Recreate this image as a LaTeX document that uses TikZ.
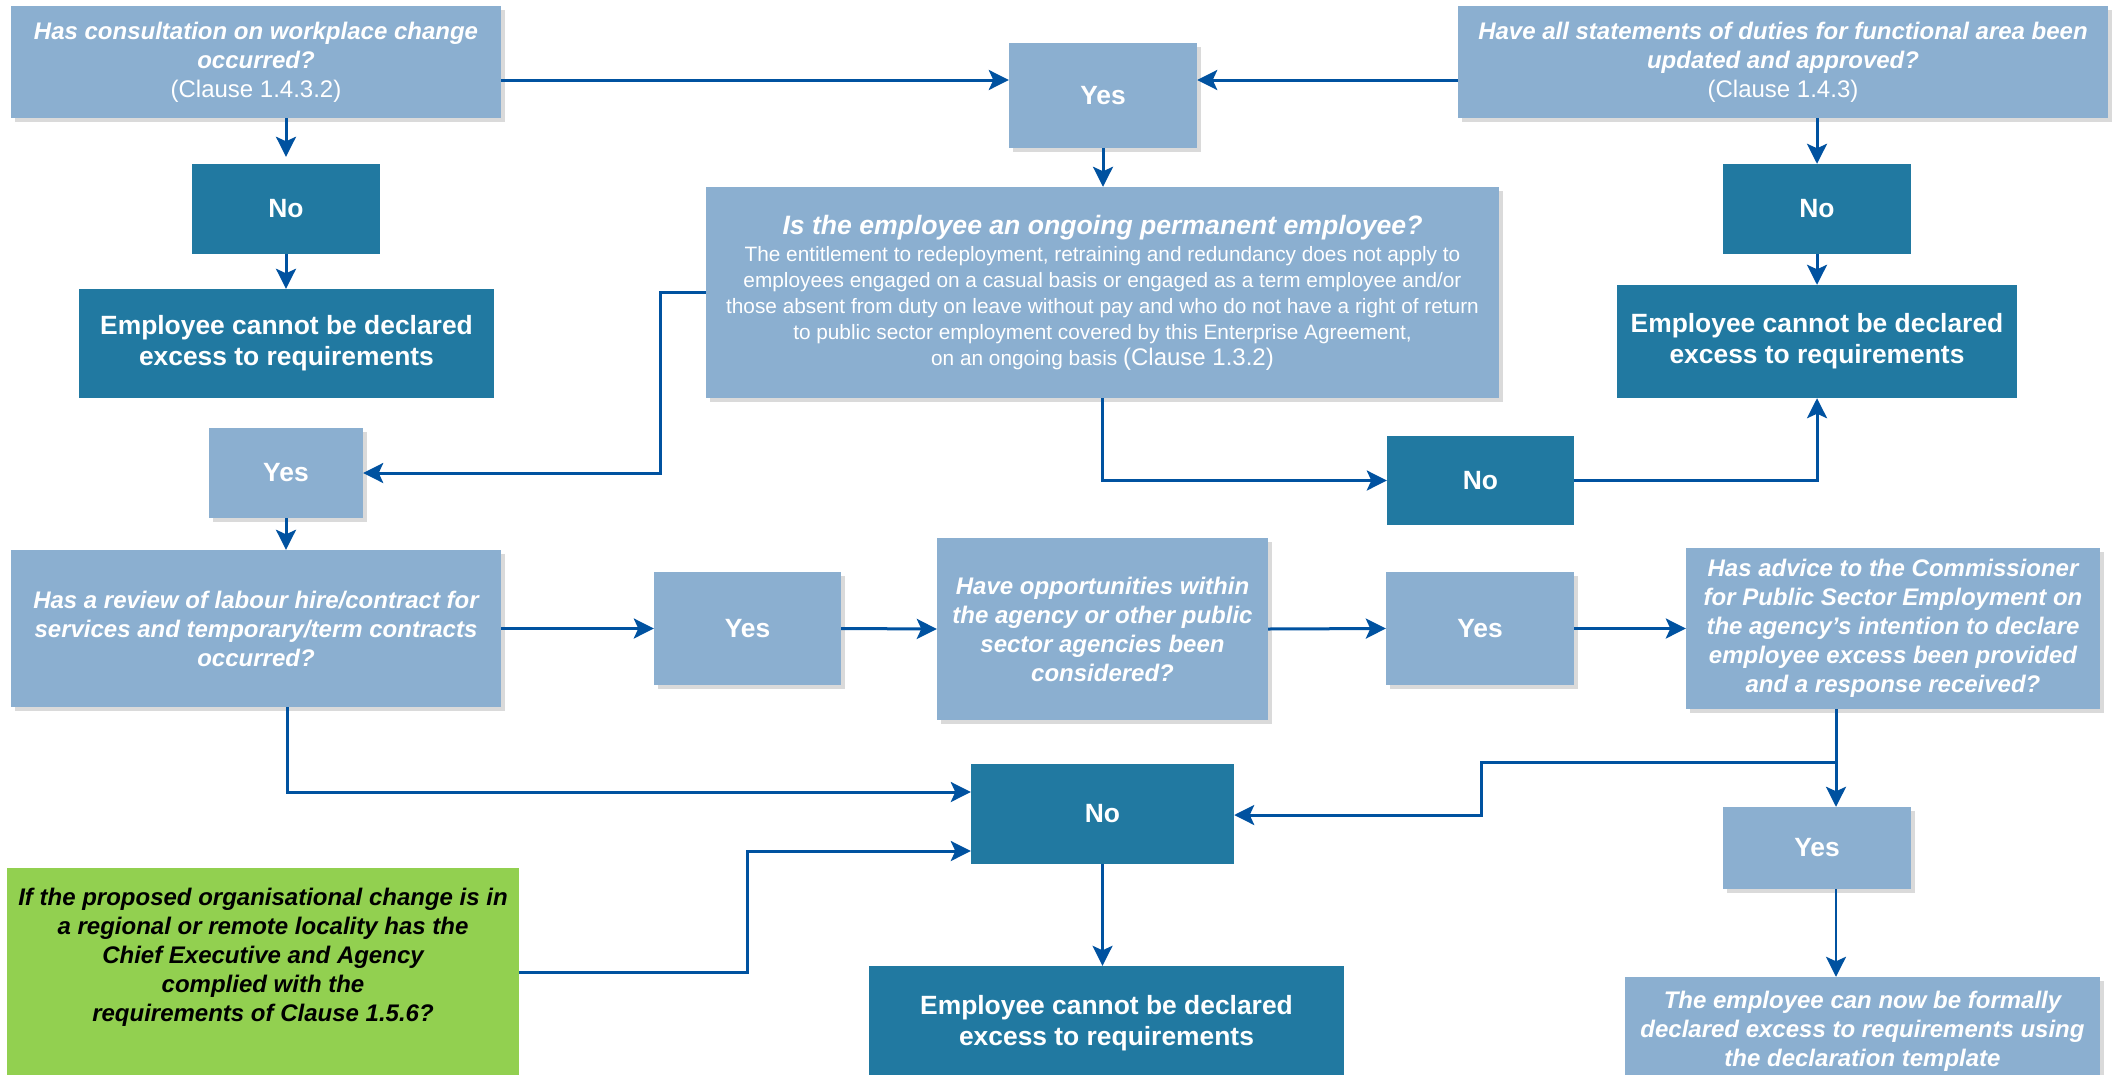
\documentclass[tikz,border=0pt]{standalone}
\usepackage{fontspec}
\setmainfont{Liberation Sans}
\usetikzlibrary{arrows.meta,shadows,calc}
\definecolor{lblue}{RGB}{139,175,208}
\definecolor{dteal}{RGB}{33,121,161}
\definecolor{lgreen}{RGB}{146,208,80}
\definecolor{arrblue}{RGB}{0,82,160}
\definecolor{shd}{RGB}{218,218,218}
\newcommand{\qfont}{\fontsize{24}{29}\selectfont\bfseries\itshape}
\newcommand{\bigfont}{\fontsize{26.4}{31}\selectfont\bfseries}
\newcommand{\clausefont}{\fontsize{24}{29}\selectfont\mdseries\upshape}
\begin{document}
\begin{tikzpicture}[x=1pt,y=-1pt,
  box/.style={rectangle, inner sep=0pt, align=center, text=white},
  qbox/.style={box, fill=lblue, drop shadow={shadow xshift=4pt, shadow yshift=-4pt, fill=shd, opacity=1}},
  dbox/.style={box, fill=dteal, font=\bigfont},
  gbox/.style={box, fill=lgreen, text=black, font=\qfont},
  conn/.style={draw=arrblue, line width=3pt, -{Stealth[length=20pt,width=20pt,inset=4.5pt]}},
  thinconn/.style={conn, line width=2.6pt}]
\useasboundingbox[fill=white] (0,0) rectangle (2115,1074);

% top row
\node[qbox, font=\qfont, minimum width=490, minimum height=112] (cons) at (256,62)
  {Has consultation on workplace change\\occurred?\\{\clausefont(Clause 1.4.3.2)}};
\node[qbox, font=\bigfont, minimum width=188, minimum height=105] (yes1) at (1103,95.5) {Yes};
\node[qbox, font=\qfont, minimum width=650, minimum height=112] (stat) at (1783,62)
  {Have all statements of duties for functional area been\\updated and approved?\\{\clausefont(Clause 1.4.3)}};

\node[dbox, minimum width=188, minimum height=90] (no1) at (286,209) {No};
\node[dbox, minimum width=415, minimum height=109] (ex1) at (286.5,343.5) {Employee cannot be declared\\excess to requirements};
\node[dbox, minimum width=188, minimum height=90] (no2) at (1817,209) {No};
\node[dbox, minimum width=400, minimum height=113] (ex2) at (1817,341.5) {Employee cannot be declared\\excess to requirements};

\node[qbox, font=\fontsize{20.8}{26}\selectfont, minimum width=793, minimum height=211] (emp) at (1102.5,292.5)
  {{\fontsize{26.6}{26}\selectfont\bfseries\itshape Is the employee an ongoing permanent employee?}\\[1pt]
   The entitlement to redeployment, retraining and redundancy does not apply to\\
   employees engaged on a casual basis or engaged as a term employee and/or\\
   those absent from duty on leave without pay and who do not have a right of return\\
   to public sector employment covered by this Enterprise Agreement,\\
   on an ongoing basis {\fontsize{24}{26}\selectfont(Clause 1.3.2)}};

\node[qbox, font=\bigfont, minimum width=154, minimum height=90] (yes2) at (286,473) {Yes};
\node[dbox, minimum width=187, minimum height=89] (no3) at (1480.5,480.5) {No};

% middle row
\node[qbox, font=\qfont, minimum width=490, minimum height=157] (rev) at (256,628.5)
  {Has a review of labour hire/contract for\\services and temporary/term contracts\\occurred?};
\node[qbox, font=\bigfont, minimum width=187, minimum height=113] (yes3) at (747.5,628.5) {Yes};
\node[qbox, font=\qfont, minimum width=331, minimum height=182] (opp) at (1102.5,629)
  {Have opportunities within\\the agency or other public\\sector agencies been\\considered?};
\node[qbox, font=\bigfont, minimum width=188, minimum height=113] (yes4) at (1480,628.5) {Yes};
\node[qbox, font=\qfont, minimum width=414, minimum height=161] (adv) at (1893,628.5)
  {Has advice to the Commissioner\\for Public Sector Employment on\\the agency’s intention to declare\\employee excess been provided\\and a response received?};

% bottom row
\node[dbox, minimum width=263, minimum height=100] (no4) at (1102.5,814) {No};
\node[qbox, font=\bigfont, minimum width=188, minimum height=82] (yes5) at (1817,848) {Yes};
\node[gbox, minimum width=512, minimum height=212] (reg) at (263,974)
  {If the proposed organisational change is in\\a regional or remote locality has the\\Chief Executive and Agency\\complied with the\\requirements of Clause 1.5.6?\rule[-39pt]{0pt}{1pt}};
\node[dbox, minimum width=475, minimum height=114] (ex3) at (1106.5,1023) {Employee cannot be declared\\excess to requirements};
\node[qbox, font=\qfont, minimum width=475, minimum height=108] (fin) at (1862.5,1031)
  {The employee can now be formally\\declared excess to requirements using\\the declaration template};

% helper coordinates
\coordinate (yA) at (0,80);
\coordinate (k1) at (660,0);
\coordinate (k2) at (287,792);
\coordinate (k3) at (1836,762);
\coordinate (k4) at (1481,815);
\coordinate (k5) at (747,851);
\coordinate (k6) at (0,972);

% connectors
\draw[conn] (cons.east |- yA) -- (yes1.west |- yA);
\draw[conn] (stat.west |- yA) -- (yes1.east |- yA);
\draw[conn, shorten >=7pt] (no1.north |- cons.south) -- (no1.north);
\draw[conn] (no1.south) -- (no1.south |- ex1.north);
\draw[conn] (no2.north |- stat.south) -- (no2.north);
\draw[conn] (no2.south) -- (no2.south |- ex2.north);
\draw[conn] (yes1.south) -- (yes1.south |- emp.north);
\draw[conn] (emp.west) -- (emp.west -| k1) |- (yes2.east);
\draw[conn] (emp.south) |- (no3.west);
\draw[conn] (no3.east) -| (ex2.south);
\draw[conn] (yes2.south) -- (yes2.south |- rev.north);
\draw[conn] (rev.east) -- (yes3.west);
\draw[conn] (yes3.east) -- (opp.west);
\draw[conn] (opp.east) -- (yes4.west);
\draw[conn] (yes4.east) -- (adv.west);
\draw[conn] (rev.south -| k2) -- (k2) -- (no4.west |- k2);
\draw[conn] (adv.south -| k3) -- (k3) -- (yes5.north -| k3);
\draw[conn] (k3) -| (k4) -- (no4.east |- k4);
\draw[conn] (reg.east |- k6) -| (k5) -- (no4.west |- k5);
\draw[thinconn] (no4.south) -- (no4.south |- ex3.north);
\draw[thinconn] (yes5.south -| k3) -- (fin.north -| k3);
\end{tikzpicture}
\end{document}
